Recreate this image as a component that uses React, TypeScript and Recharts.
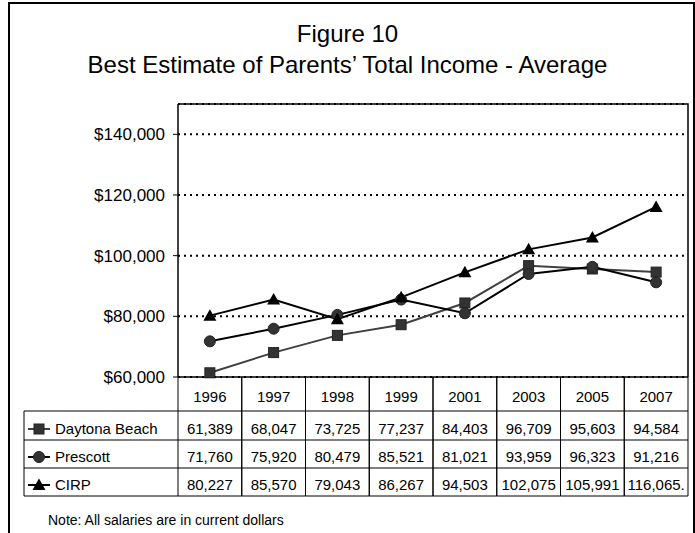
import React from "react";
import {
  LineChart,
  Line,
  XAxis,
  YAxis,
  CartesianGrid,
} from "recharts";

const years = ["1996", "1997", "1998", "1999", "2001", "2003", "2005", "2007"];
const daytonaBeach = [61389, 68047, 73725, 77237, 84403, 96709, 95603, 94584];
const prescott = [71760, 75920, 80479, 85521, 81021, 93959, 96323, 91216];
const cirp = [80227, 85570, 79043, 86267, 94503, 102075, 105991, 116065];
const yTicks = [60000, 80000, 100000, 120000, 140000];
// the source table cuts this one cell off
const cellOverrides: Record<string, string> = { "CIRP-7": "116,065." };

type Shape = "square" | "circle" | "triangle";
const series: { key: string; name: string; values: number[]; color: string; shape: Shape }[] = [
  { key: "daytona", name: "Daytona Beach", values: daytonaBeach, color: "#404040", shape: "square" },
  { key: "prescott", name: "Prescott", values: prescott, color: "#000", shape: "circle" },
  { key: "cirp", name: "CIRP", values: cirp, color: "#000", shape: "triangle" },
];

const data = years.map((year, i) => {
  const row: Record<string, string | number> = { year };
  series.forEach((s) => (row[s.key] = s.values[i]));
  return row;
});

const W = 695;
const H = 533;
const PLOT_LEFT = 178;
const PLOT_RIGHT = 688;
const PLOT_TOP = 104;
const PLOT_BOTTOM = 377;
const CELL_W = (PLOT_RIGHT - PLOT_LEFT) / years.length;
const KEY_LEFT = 24;
const ROW_LINES = [411, 440, 468, 496];
const ROW_BASE = [434, 462, 490];
const FONT = "'Liberation Sans', Arial, sans-serif";

function Marker({ shape, cx, cy }: { shape: Shape; cx: number; cy: number }) {
  if (shape === "square")
    return <rect x={cx - 5} y={cy - 5} width={10} height={10} fill="#333" stroke="#222" strokeWidth={1} />;
  if (shape === "circle")
    return <circle cx={cx} cy={cy} r={5.5} fill="#333" stroke="#222" strokeWidth={1} />;
  return (
    <polygon
      points={`${cx},${cy - 6.5} ${cx + 6.5},${cy + 5} ${cx - 6.5},${cy + 5}`}
      fill="#000"
    />
  );
}

function TableTick(props: any) {
  const { x, payload } = props;
  const i = years.indexOf(String(payload.value));
  const left = x - CELL_W / 2;
  const right = x + CELL_W / 2;
  const line = { stroke: "#000", strokeWidth: 1 };
  return (
    <g fontFamily={FONT} fontSize={15} fill="#000">
      <line x1={left} x2={left} y1={PLOT_BOTTOM} y2={ROW_LINES[3]} {...line} />
      <line x1={right} x2={right} y1={PLOT_BOTTOM} y2={ROW_LINES[3]} {...line} />
      {ROW_LINES.map((ly) => (
        <line key={ly} x1={left} x2={right} y1={ly} y2={ly} {...line} />
      ))}
      <text x={x} y={402} textAnchor="middle">
        {payload.value}
      </text>
      {series.map((s, r) => (
        <text key={s.key} x={x} y={ROW_BASE[r]} textAnchor="middle">
          {cellOverrides[`${s.name}-${i}`] ?? s.values[i].toLocaleString("en-US")}
        </text>
      ))}
      {i === 0 && (
        <g>
          <line x1={KEY_LEFT} x2={KEY_LEFT} y1={ROW_LINES[0]} y2={ROW_LINES[3]} {...line} />
          {ROW_LINES.map((ly) => (
            <line key={ly} x1={KEY_LEFT} x2={left} y1={ly} y2={ly} {...line} />
          ))}
          {series.map((s, r) => (
            <g key={s.key}>
              <line x1={KEY_LEFT + 4} x2={KEY_LEFT + 26} y1={ROW_BASE[r] - 5} y2={ROW_BASE[r] - 5} stroke={s.color} strokeWidth={2} />
              <Marker shape={s.shape} cx={KEY_LEFT + 15} cy={ROW_BASE[r] - 5} />
              <text x={KEY_LEFT + 31} y={ROW_BASE[r]}>
                {s.name}
              </text>
            </g>
          ))}
        </g>
      )}
    </g>
  );
}

export default function App() {
  return (
    <div
      style={{
        position: "absolute",
        left: 0,
        top: 0,
        width: W,
        height: H,
        overflow: "hidden",
        background: "#fff",
        fontFamily: FONT,
      }}
    >
      <div
        style={{
          position: "absolute",
          left: 8,
          top: 2,
          width: 687,
          height: 620,
          border: "2px solid #000",
          boxSizing: "border-box",
        }}
      />
      <div style={{ position: "absolute", left: 0, width: W, top: 18, textAlign: "center", fontSize: 24, lineHeight: "31px" }}>
        Figure 10
        <br />
        Best Estimate of Parents’ Total Income - Average
      </div>
      <div style={{ position: "absolute", left: 48, top: 512, fontSize: 14 }}>
        Note: All salaries are in current dollars
      </div>
      <div style={{ position: "absolute", left: 0, top: 0 }}>
        <LineChart
          width={W}
          height={H}
          data={data}
          margin={{ top: PLOT_TOP, right: W - PLOT_RIGHT, left: 8, bottom: 37 }}
        >
          <CartesianGrid vertical={false} stroke="#000" strokeWidth={2} strokeDasharray="2 4" />
          <XAxis
            dataKey="year"
            type="category"
            interval={0}
            padding={{ left: CELL_W / 2, right: CELL_W / 2 }}
            axisLine={{ stroke: "#000", strokeWidth: 1.5 }}
            tickLine={false}
            tickSize={0}
            tickMargin={0}
            height={119}
            tick={<TableTick />}
          />
          <YAxis
            domain={[60000, 150000]}
            ticks={yTicks}
            width={170}
            axisLine={{ stroke: "#000", strokeWidth: 1.5 }}
            tickLine={{ stroke: "#000" }}
            tickSize={5}
            tickMargin={8}
            tick={{ fill: "#000", fontSize: 17, fontFamily: FONT }}
            tickFormatter={(v: number) => `$${v.toLocaleString("en-US")}`}
          />
          {series.map((s) => (
            <Line
              key={s.key}
              dataKey={s.key}
              name={s.name}
              stroke={s.color}
              strokeWidth={2}
              isAnimationActive={false}
              activeDot={false}
              dot={(p: any) => <Marker key={`${s.key}-${p.index}`} shape={s.shape} cx={p.cx} cy={p.cy} />}
            />
          ))}
        </LineChart>
      </div>
      {/* top and right edges of the plot box */}
      <svg
        width={W}
        height={H}
        style={{ position: "absolute", left: 0, top: 0, pointerEvents: "none" }}
      >
        <polyline
          points={`${PLOT_LEFT},${PLOT_TOP} ${PLOT_RIGHT},${PLOT_TOP} ${PLOT_RIGHT},${PLOT_BOTTOM}`}
          fill="none"
          stroke="#000"
          strokeWidth={1.5}
        />
      </svg>
    </div>
  );
}
